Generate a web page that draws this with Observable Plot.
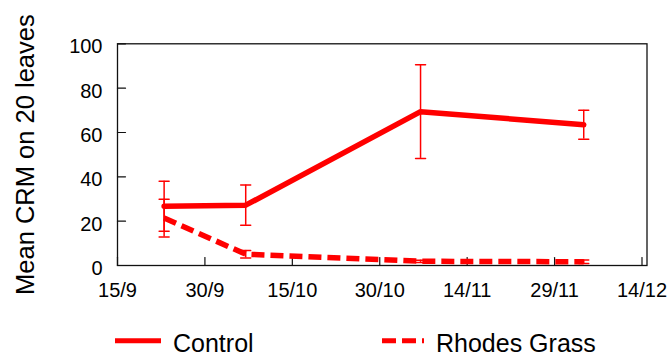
<!DOCTYPE html>
<html><head><meta charset="utf-8">
<script src="https://cdn.jsdelivr.net/npm/d3@7"></script>
<script src="https://cdn.jsdelivr.net/npm/@observablehq/plot@0.6"></script>
<style>body{margin:0;background:#fff;font-family:Arial,"Liberation Sans",sans-serif}#chart svg{display:block}</style>
</head><body><div id="chart"></div><script>
// Data
const dates = ["2003-09-23", "2003-10-07", "2003-11-06", "2003-12-04"];
const control = [26.7, 27.2, 69.4, 63.5];
const controlErr = [11.3, 9.1, 21.1, 6.5];
const rhodes = [21.4, 5.1, 1.9, 1.7];
const rhodesErr = [8.5, 1.7, 0.5, 0.8];
const seriesNames = ["Control", "Rhodes Grass"];
const xTicks = ["2003-09-15", "2003-09-30", "2003-10-15", "2003-10-30", "2003-11-14", "2003-11-29", "2003-12-14"];
const yTicks = [0, 20, 40, 60, 80, 100];
const yTitle = "Mean CRM on 20 leaves";
const RED = "#ff0000";

const parse = d3.utcParse("%Y-%m-%d");
const rows = [];
dates.forEach((d, i) => {
  rows.push({date: parse(d), value: control[i], err: controlErr[i], series: seriesNames[0]});
  rows.push({date: parse(d), value: rhodes[i], err: rhodesErr[i], series: seriesNames[1]});
});
const caps = rows.flatMap(r => [{date: r.date, y: r.value + r.err}, {date: r.date, y: r.value - r.err}]);
const capShape = {draw(ctx, l) { ctx.moveTo(0, 0); ctx.lineTo(0, -l); }};
const xTickDates = xTicks.map(parse);

const chart = Plot.plot({
  width: 671,
  height: 305,
  marginLeft: 117,
  marginRight: 24.5,
  marginTop: 43.3,
  marginBottom: 40,
  style: {fontFamily: "Arial, 'Liberation Sans', sans-serif", background: "#fff", overflow: "visible"},
  x: {type: "utc", domain: [xTickDates[0], xTickDates[xTickDates.length - 1]], insetRight: 5},
  y: {domain: [0, 100]},
  marks: [
    Plot.frame({stroke: "#111", strokeWidth: 1.3}),
    Plot.axisX({ticks: xTickDates, tickSize: 0, tickPadding: 17.5, tickFormat: d3.utcFormat("%-d/%-m"), fontSize: 20, label: null, fill: "#000"}),
    Plot.axisY({ticks: yTicks, tickSize: 0, tickPadding: 15, fontSize: 20, label: null, dy: 3, fill: "#000"}),
    // inward tick marks
    Plot.vector(xTickDates, {x: d => d, frameAnchor: "bottom", length: 8, anchor: "start", shape: capShape, stroke: "#111", strokeWidth: 1.2}),
    Plot.vector(yTicks, {y: d => d, frameAnchor: "left", rotate: 90, length: 8, anchor: "start", shape: capShape, stroke: "#111", strokeWidth: 1.2}),
    Plot.ruleX(rows, {x: "date", y1: d => d.value - d.err, y2: d => d.value + d.err, stroke: RED, strokeWidth: 1.5}),
    Plot.vector(caps, {x: "date", y: "y", length: 10, rotate: 90, anchor: "middle", shape: capShape, stroke: RED, strokeWidth: 1.5}),
    Plot.line(rows.filter(r => r.series === seriesNames[0]), {x: "date", y: "value", stroke: RED, strokeWidth: 5.5, strokeLinejoin: "miter"}),
    Plot.line(rows.filter(r => r.series === seriesNames[1]), {x: "date", y: "value", stroke: RED, strokeWidth: 5.5, strokeDasharray: "13,6", strokeLinecap: "butt"}),
    Plot.text([yTitle], {text: d => d, frameAnchor: "left", textAnchor: "middle", dx: -92, dy: 0, rotate: -90, fontSize: 25.5, fill: "#000"})
  ]
});
document.getElementById("chart").appendChild(chart);

// Legend below the plot
const leg = d3.select("#chart").append("svg").attr("width", 671).attr("height", 51)
  .style("font-family", "Arial, 'Liberation Sans', sans-serif");
const legendItems = [
  {name: seriesNames[0], x: 115, w: 46, dash: null},
  {name: seriesNames[1], x: 382, w: 42, dash: "14,6"}
];
legendItems.forEach(it => {
  leg.append("line").attr("x1", it.x).attr("x2", it.x + it.w).attr("y1", 35.7).attr("y2", 35.7)
    .attr("stroke", RED).attr("stroke-width", 5).attr("stroke-dasharray", it.dash);
  leg.append("text").attr("x", it.x + it.w + 12).attr("y", 47).attr("font-size", 25).attr("fill", "#000").text(it.name);
});
</script></body></html>
